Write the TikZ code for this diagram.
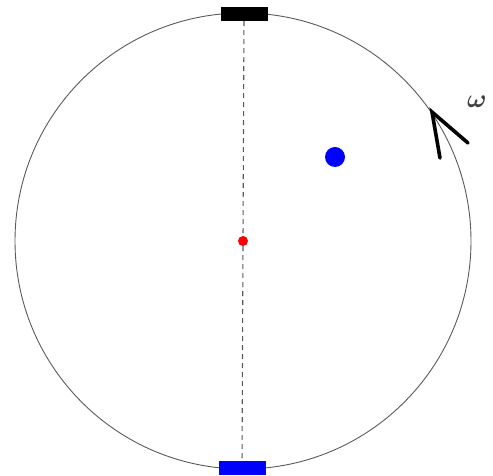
\documentclass[tikz,border=0pt]{standalone}
\usepackage{amsmath}
\usepackage{xcolor}
\usepackage{tikz}
\usetikzlibrary{positioning}
\definecolor{rimgray}{RGB}{90,90,90}
\definecolor{padblue}{RGB}{0,0,255}

\begin{document}
\begin{tikzpicture}[x=1pt, y=1pt,
    pad/.style={inner sep=0pt, minimum width=47pt, minimum height=14pt},
    dot/.style={circle, inner sep=0pt}]
  \useasboundingbox (0,0) rectangle (493,476);
  \coordinate (centre) at (243,235);
  \draw[rimgray, line width=0.9pt] (centre) circle (228);
  % the two pads and the axis between them
  \node[pad, fill=black] (toppad) at (244,462) {};
  \node[pad, fill=padblue] (botpad) at (242,8) {};
  \draw[rimgray, dashed, line width=1.1pt, dash pattern=on 5pt off 4pt] (toppad) -- (botpad);
  \node[dot, fill=red, minimum size=10pt] (hub) at (centre) {};
  \node[dot, fill=padblue, minimum size=20pt] (ball) at (335,319) {};
  % rotation sense
  \coordinate (tip) at (432,364);
  \draw[line width=3.6pt, line cap=round] (440,318) -- (tip) -- (468,333);
  \node[black!75, scale=2.6] (omega) at (477,374) {$\boldsymbol{\omega}$};
\end{tikzpicture}
\end{document}
